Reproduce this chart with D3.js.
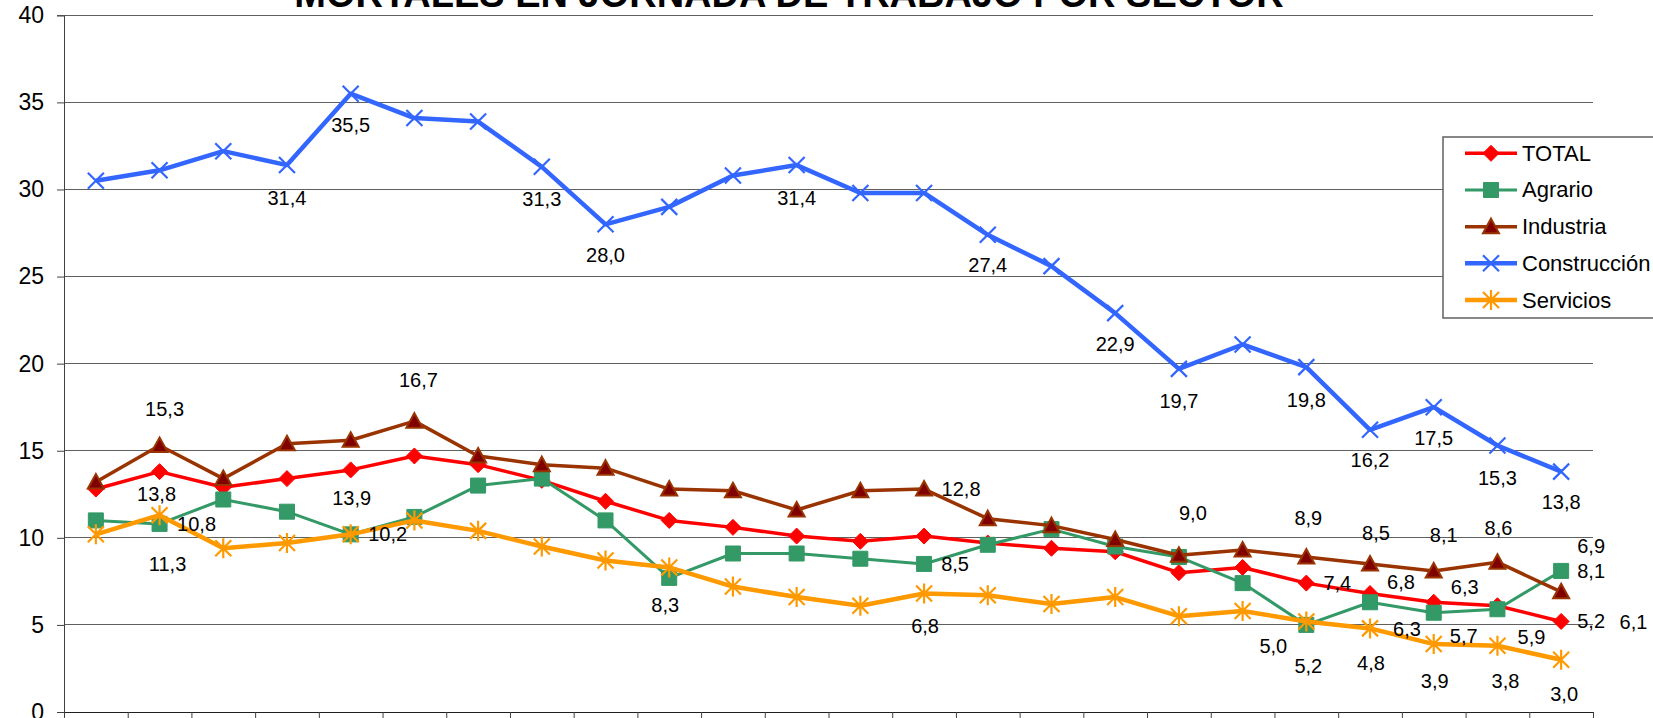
<!DOCTYPE html>
<html>
<head>
<meta charset="utf-8">
<script src="https://cdn.jsdelivr.net/npm/d3@7"></script>
<style>
  html, body { margin: 0; padding: 0; background: #fff; overflow: hidden; }
  svg { display: block; font-family: "Liberation Sans", Arial, sans-serif; }
</style>
</head>
<body>
<svg id="chart" width="1653" height="718"></svg>
<script>
// ---------------- DATA ----------------
// x tick labels are cropped off in the reference (below the bottom edge)
const categories = ["1988","1989","1990","1991","1992","1993","1994","1995","1996","1997","1998","1999",
                    "2000","2001","2002","2003","2004","2005","2006","2007","2008","2009","2010","2011"];
const seriesNames = ["TOTAL", "Agrario", "Industria", "Construcción", "Servicios"];
const totalValues        = [12.8,13.8,12.9,13.4,13.9,14.7,14.2,13.3,12.1,11.0,10.6,10.1,9.8,10.1,9.7,9.4,9.2,8.0,8.3,7.4,6.8,6.3,6.1,5.2];
const agrarioValues      = [11.0,10.8,12.2,11.5,10.2,11.2,13.0,13.4,11.0,7.7,9.1,9.1,8.8,8.5,9.6,10.5,9.5,8.9,7.4,5.0,6.3,5.7,5.9,8.1];
const industriaValues    = [13.2,15.3,13.4,15.4,15.6,16.7,14.7,14.2,14.0,12.8,12.7,11.6,12.7,12.8,11.1,10.7,9.9,9.0,9.3,8.9,8.5,8.1,8.6,6.9];
const construccionValues = [30.5,31.1,32.2,31.4,35.5,34.1,33.9,31.3,28.0,29.0,30.8,31.4,29.8,29.8,27.4,25.6,22.9,19.7,21.1,19.8,16.2,17.5,15.3,13.8];
const serviciosValues    = [10.2,11.3,9.4,9.7,10.2,11.0,10.4,9.5,8.7,8.3,7.2,6.6,6.1,6.8,6.7,6.2,6.6,5.5,5.8,5.2,4.8,3.9,3.8,3.0];
const yTicks = [0,5,10,15,20,25,30,35,40];
const titleText = "MORTALES EN JORNADA DE TRABAJO POR SECTOR";

// which points carry a value label, and where it sits relative to the point [index, dx, dy]
const totalLabels        = [[1,-3,22],[4,1,28],[19,31,0],[20,31,-12],[21,31,-15],[22,136,16],[23,30,0]];
const agrarioLabels      = [[1,37,0],[4,37,0],[13,31,0],[19,-33,21],[20,37,27],[21,30,23],[22,34,28],[23,30,0]];
const industriaLabels    = [[1,5,-37],[5,4,-41],[13,37,0],[17,14,-42],[19,2,-39],[20,6,-31],[21,10,-36],[22,1,-34],[23,30,-46]];
const construccionLabels = [[3,0,33],[4,0,31],[7,0,32],[8,0,31],[11,0,33],[14,0,30],[16,0,31],[17,0,32],[19,0,33],[20,0,30],[21,0,31],[22,0,32],[23,0,30]];
const serviciosLabels    = [[1,8,49],[9,-4,38],[13,1,32],[19,2,45],[20,1,35],[21,1,37],[22,8,35],[23,3,34]];

// ---------------- STYLE ----------------
const styles = [
  {name: seriesNames[0], values: totalValues,        labels: totalLabels,        color: "#FF0000", width: 3.5, marker: "diamond",  fill: "#FF0000", stroke: "#FF0000"},
  {name: seriesNames[1], values: agrarioValues,      labels: agrarioLabels,      color: "#339966", width: 3,   marker: "square",   fill: "#339966", stroke: "#339966"},
  {name: seriesNames[2], values: industriaValues,    labels: industriaLabels,    color: "#993300", width: 3.5, marker: "triangle", fill: "#800000", stroke: "#993300"},
  {name: seriesNames[3], values: construccionValues, labels: construccionLabels, color: "#3366FF", width: 4.5, marker: "x",        fill: "none",    stroke: "#3366FF"},
  {name: seriesNames[4], values: serviciosValues,    labels: serviciosLabels,    color: "#FF9900", width: 4.5, marker: "star",     fill: "none",    stroke: "#FF9900"}
];

const svg = d3.select("#chart");
svg.append("rect").attr("width", 1653).attr("height", 718).attr("fill", "#fff");

const plotLeft = 64, plotRight = 1593, plotTop = 15.3, plotBottom = 712;
const x = d3.scaleBand().domain(categories).range([plotLeft, plotRight]).padding(0);
const xEdge = d3.scaleLinear().domain([0, categories.length]).range([plotLeft, plotRight]);
const y = d3.scaleLinear().domain([0, 40]).range([plotBottom, plotTop]);
const cx = i => x(categories[i]) + x.bandwidth() / 2;

// gridlines
svg.append("g").selectAll("line").data(yTicks.filter(t => t > 0)).join("line")
  .attr("x1", plotLeft).attr("x2", plotRight)
  .attr("y1", d => y(d)).attr("y2", d => y(d))
  .attr("stroke", "#606060").attr("stroke-width", 1).attr("shape-rendering", "crispEdges");

// y axis
const yAxis = svg.append("g").attr("transform", `translate(${plotLeft},0)`)
  .call(d3.axisLeft(y).tickValues(yTicks).tickSize(7).tickPadding(13).tickFormat(d3.format("d")));
yAxis.select(".domain").attr("stroke", "#404040");
yAxis.selectAll(".tick line").attr("stroke", "#404040");
yAxis.selectAll("text").attr("font-size", 23).attr("fill", "#000")
  .attr("font-family", "'Liberation Sans', Arial, sans-serif");

// x axis (boundary ticks, labels cropped off)
const xAxis = svg.append("g").attr("transform", `translate(0,${plotBottom})`)
  .call(d3.axisBottom(xEdge).tickValues(d3.range(categories.length + 1)).tickSize(8).tickSizeOuter(0).tickFormat(""));
xAxis.select(".domain").attr("stroke", "#202020");
xAxis.selectAll(".tick line").attr("stroke", "#404040");

// markers
function markerPath(type) {
  switch (type) {
    case "diamond":  return "M0,-8L8,0L0,8L-8,0Z";
    case "square":   return "M-7.5,-7.5H7.5V7.5H-7.5Z";
    case "triangle": return "M0,-8L8,6.5H-8Z";
    case "x":        return "M-8,-8L8,8M-8,8L8,-8";
    case "star":     return "M-8,-8L8,8M-8,8L8,-8M0,-10V10";
  }
}
function drawMarker(g, s) {
  const p = g.append("path").attr("d", markerPath(s.marker));
  if (s.marker === "x" || s.marker === "star") {
    p.attr("fill", "none").attr("stroke", s.stroke).attr("stroke-width", 2.2);
  } else if (s.marker === "triangle") {
    p.attr("fill", s.fill).attr("stroke", s.stroke).attr("stroke-width", 2);
  } else {
    p.attr("fill", s.fill).attr("stroke", s.stroke).attr("stroke-width", 1);
  }
}

const line = d3.line().x((d, i) => cx(i)).y(d => y(d));

styles.forEach(s => {
  const g = svg.append("g");
  g.append("path").datum(s.values).attr("d", line)
    .attr("fill", "none").attr("stroke", s.color).attr("stroke-width", s.width)
    .attr("stroke-linejoin", "round");
  s.values.forEach((v, i) => {
    const mg = g.append("g").attr("transform", `translate(${cx(i)},${y(v)})`);
    drawMarker(mg, s);
  });
});

// data labels
const fmt = v => d3.format(".1f")(v).replace(".", ",");
styles.forEach(s => {
  svg.append("g").selectAll("text").data(s.labels).join("text")
    .attr("x", d => cx(d[0]) + d[1])
    .attr("y", d => y(s.values[d[0]]) + d[2])
    .attr("text-anchor", "middle").attr("dominant-baseline", "central")
    .attr("font-size", 20).attr("fill", "#000")
    .text(d => fmt(s.values[d[0]]));
});

// title (cropped at top in the reference)
svg.append("text").attr("x", 789).attr("y", 7).attr("text-anchor", "middle")
  .attr("font-size", 38).attr("font-weight", "bold").attr("fill", "#000")
  .text(titleText);

// legend
const lg = svg.append("g");
lg.append("rect").attr("x", 1443).attr("y", 137).attr("width", 240).attr("height", 181)
  .attr("fill", "#fff").attr("stroke", "#606060").attr("stroke-width", 1.5);
const legendY = d3.scalePoint().domain(seriesNames).range([153.3, 300]);
styles.forEach(s => {
  const ly = legendY(s.name);
  lg.append("line").attr("x1", 1465).attr("x2", 1517).attr("y1", ly).attr("y2", ly)
    .attr("stroke", s.color).attr("stroke-width", s.width);
  const mg = lg.append("g").attr("transform", `translate(1491,${ly})`);
  drawMarker(mg, s);
  lg.append("text").attr("x", 1522).attr("y", ly).attr("dominant-baseline", "central")
    .attr("font-size", 22).attr("fill", "#000").text(s.name);
});
</script>
</body>
</html>
